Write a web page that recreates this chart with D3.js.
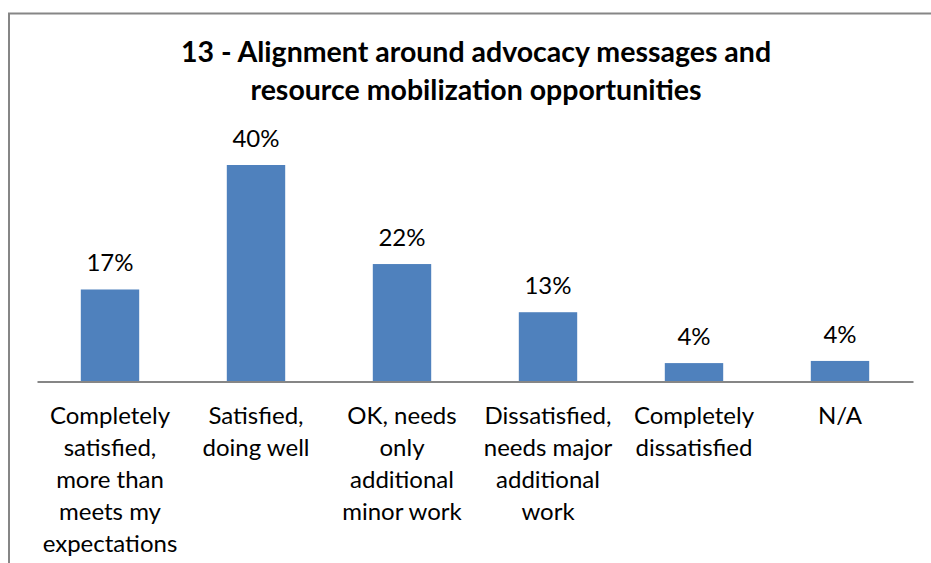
<!DOCTYPE html>
<html>
<head>
<meta charset="utf-8">
<script src="https://cdn.jsdelivr.net/npm/d3@7"></script>
<style>
  html, body { margin: 0; padding: 0; background: #fff; }
  svg { display: block; }
  text { font-family: Lato, "Open Sans", sans-serif; fill: #000; }
</style>
</head>
<body>
<svg id="chart" width="931" height="563"></svg>
<script>
const titleLines = ["13 - Alignment around advocacy messages and", "resource mobilization opportunities"];
const categories = ["Completely satisfied, more than meets my expectations", "Satisfied, doing well", "OK, needs only additional minor work", "Dissatisfied, needs major additional work", "Completely dissatisfied", "N/A"];
const categoryLines = [
  ["Completely", "satisfied,", "more than", "meets my", "expectations"],
  ["Satisfied,", "doing well"],
  ["OK, needs", "only", "additional", "minor work"],
  ["Dissatisfied,", "needs major", "additional", "work"],
  ["Completely", "dissatisfied"],
  ["N/A"]
];
const values = [17, 40, 21.7, 12.8, 3.4, 3.8];
const valueLabels = ["17%", "40%", "22%", "13%", "4%", "4%"];

const svg = d3.select("#chart");

// chart frame
svg.append("path")
  .attr("d", "M9,570 V13.5 H940")
  .attr("fill", "none")
  .attr("stroke", "#868686")
  .attr("stroke-width", 2);

const x = d3.scaleBand().domain(categories).range([37, 913]).paddingInner(0.6).paddingOuter(0.3);
const y = d3.scaleLinear().domain([0, 40]).range([381.5, 165]);

// title
svg.append("g").selectAll("text").data(titleLines).join("text")
  .attr("x", 476)
  .attr("y", (d, i) => 62 + i * 38)
  .attr("text-anchor", "middle")
  .attr("font-weight", "bold")
  .attr("font-size", "28.5px")
  .text(d => d);

// bars
svg.append("g").selectAll("rect").data(values).join("rect")
  .attr("x", (d, i) => x(categories[i]))
  .attr("width", x.bandwidth())
  .attr("y", d => y(d))
  .attr("height", d => y(0) - y(d))
  .attr("fill", "#4F81BD");

// value labels
svg.append("g").selectAll("text").data(values).join("text")
  .attr("x", (d, i) => x(categories[i]) + x.bandwidth() / 2)
  .attr("y", d => y(d) - 18)
  .attr("text-anchor", "middle")
  .attr("font-size", "24px")
  .text((d, i) => valueLabels[i]);

// axis
const axis = svg.append("g").attr("transform", `translate(0,${y(0)})`)
  .call(d3.axisBottom(x).tickSize(0).tickFormat(""));
axis.select(".domain").attr("stroke", "#868686").attr("stroke-width", 2);

// category labels
const cat = svg.append("g").selectAll("text").data(categories).join("text")
  .attr("x", d => x(d) + x.bandwidth() / 2)
  .attr("y", 424)
  .attr("text-anchor", "middle")
  .attr("font-size", "24px");
cat.selectAll("tspan").data((d, i) => categoryLines[i]).join("tspan")
  .attr("x", function() { return d3.select(this.parentNode).attr("x"); })
  .attr("dy", (d, j) => j === 0 ? 0 : 32)
  .text(d => d);
</script>
</body>
</html>
